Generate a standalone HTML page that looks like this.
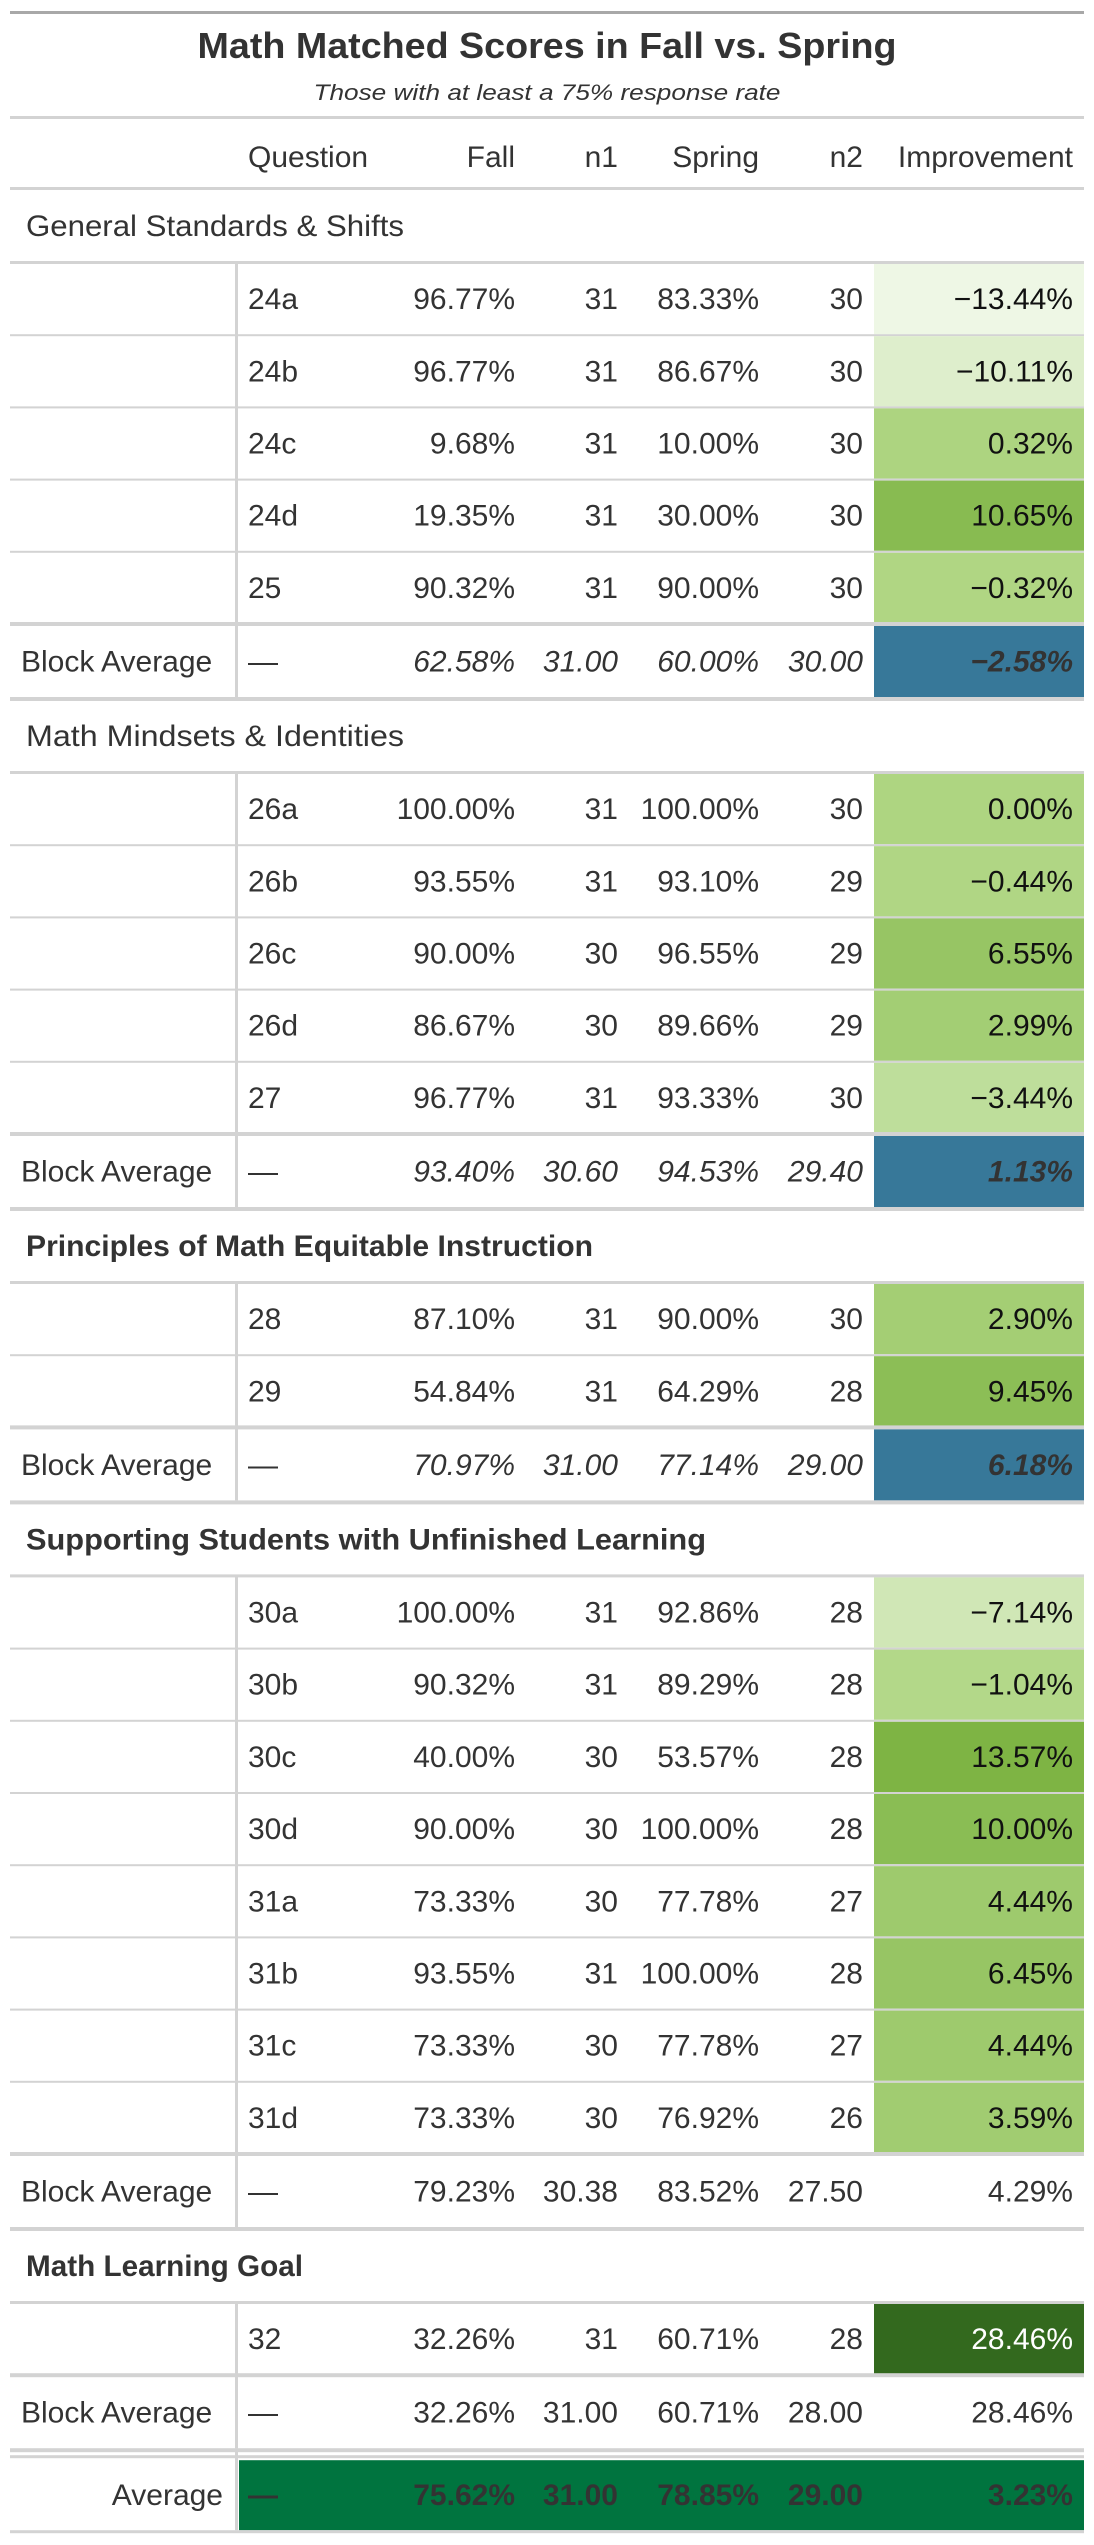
<!DOCTYPE html>
<html><head><meta charset="utf-8">
<style>
html,body{margin:0;padding:0;background:#fff;}
svg{display:block;font-family:"Liberation Sans",sans-serif;}
</style></head>
<body>
<svg id="tbl" width="1094" height="2545" viewBox="0 0 1094 2545" xmlns="http://www.w3.org/2000/svg">
<rect x="10" y="11" width="1074" height="3" fill="#a8a8a8"/>
<text x="547" y="58" text-anchor="middle" font-size="36" font-weight="bold" fill="#333" textLength="699" lengthAdjust="spacingAndGlyphs">Math Matched Scores in Fall vs. Spring</text>
<text x="547" y="100" text-anchor="middle" font-size="22" font-style="italic" fill="#333" textLength="467" lengthAdjust="spacingAndGlyphs">Those with at least a 75% response rate</text>
<rect x="10" y="116" width="1074" height="3" fill="#d3d3d3"/>
<g font-size="30" fill="#333">
<text x="248" y="167">Question</text>
<text x="515" y="167" text-anchor="end">Fall</text>
<text x="618" y="167" text-anchor="end">n1</text>
<text x="759" y="167" text-anchor="end">Spring</text>
<text x="863" y="167" text-anchor="end">n2</text>
<text x="1073" y="167" text-anchor="end">Improvement</text>
</g>
<rect x="10" y="187" width="1074" height="3" fill="#d3d3d3"/>
<g id="body"></g>
</svg>
<script>
const groupNames = ["General Standards & Shifts","Math Mindsets & Identities","Principles of Math Equitable Instruction","Supporting Students with Unfinished Learning","Math Learning Goal"];
const groupBold = [false,false,true,true,true];
const groupLabelWidths = [378,378,567,680,277];
const questions = [["24a","24b","24c","24d","25"],["26a","26b","26c","26d","27"],["28","29"],["30a","30b","30c","30d","31a","31b","31c","31d"],["32"]];
const fall = [[96.77,96.77,9.68,19.35,90.32],[100,93.55,90,86.67,96.77],[87.10,54.84],[100,90.32,40,90,73.33,93.55,73.33,73.33],[32.26]];
const n1 = [[31,31,31,31,31],[31,31,30,30,31],[31,31],[31,31,30,30,30,31,30,30],[31]];
const spring = [[83.33,86.67,10,30,90],[100,93.10,96.55,89.66,93.33],[90,64.29],[92.86,89.29,53.57,100,77.78,100,77.78,76.92],[60.71]];
const n2 = [[30,30,30,30,30],[30,29,29,29,30],[30,28],[28,28,28,28,27,28,27,26],[28]];
const improvement = [[-13.44,-10.11,0.32,10.65,-0.32],[0,-0.44,6.55,2.99,-3.44],[2.90,9.45],[-7.14,-1.04,13.57,10,4.44,6.45,4.44,3.59],[28.46]];
const blockFall = [62.58,93.40,70.97,79.23,32.26];
const blockN1 = [31.00,30.60,31.00,30.38,31.00];
const blockSpring = [60.00,94.53,77.14,83.52,60.71];
const blockN2 = [30.00,29.40,29.00,27.50,28.00];
const blockImp = [-2.58,1.13,6.18,4.29,28.46];
const blockHighlighted = [true,true,true,false,false];
const overall = [75.62,31.00,78.85,29.00,3.23];

const NS="http://www.w3.org/2000/svg";
const body=document.getElementById('body');
function el(tag,attrs,parent){const e=document.createElementNS(NS,tag);for(const k in attrs)e.setAttribute(k,attrs[k]);(parent||body).appendChild(e);return e;}
function txt(s,x,y,anchor,extra,parent){const t=el('text',Object.assign({x:x,y:y,'text-anchor':anchor,'font-size':30,fill:'#333'},extra||{}),parent);t.textContent=s;return t;}
function pct(v){return (v<0?'\u2212':'')+Math.abs(v).toFixed(2)+'%';}
function hex(c){return '#'+c.map(v=>Math.round(v).toString(16).padStart(2,'0')).join('');}
const stops=[[-14,[241,248,233]],[0,[174,213,129]],[14,[124,179,66]],[28.5,[51,105,30]]];
function colorFor(v){
  if(v<=stops[0][0])return hex(stops[0][1]);
  for(let i=1;i<stops.length;i++){if(v<=stops[i][0]){const a=stops[i-1],b=stops[i];const t=(v-a[0])/(b[0]-a[0]);return hex(a[1].map((c,j)=>c+(b[1][j]-c)*t));}}
  return hex(stops[stops.length-1][1]);
}
const X={q:248,fall:515,n1:618,spring:759,n2:863,imp:1073,impL:874,right:1084,left:10,div:235};
const ROW=72.2, BA=75, LBL=74;
let y=263;
for(let g=0;g<groupNames.length;g++){
  if(g>0){
    const lab=txt(groupNames[g],26,y+LBL/2+10,'start',{'font-weight':groupBold[g]?'bold':'normal',textLength:groupLabelWidths[g],lengthAdjust:'spacingAndGlyphs'});
    
    
    y+=LBL;
  } else {
    const lab=txt(groupNames[g],26,226+10,'start',{textLength:groupLabelWidths[g],lengthAdjust:'spacingAndGlyphs'});
    
    
  }
  const ln=el('rect',{x:X.left,y:y-2,width:1074,height:3,fill:'#d3d3d3'});
  
  
  const top=y;
  for(let i=0;i<questions[g].length;i++){
    const row=el('g',{});
    
    
    const v=improvement[g][i];
    const cell=el('rect',{x:X.impL,y:y+1,width:X.right-X.impL,height:ROW-2,fill:colorFor(v)},row);
    
    
    const cy=y+ROW/2+10;
    txt(questions[g][i],X.q,cy,'start',{},row);
    txt(pct(fall[g][i]),X.fall,cy,'end',{},row);
    txt(String(n1[g][i]),X.n1,cy,'end',{},row);
    txt(pct(spring[g][i]),X.spring,cy,'end',{},row);
    txt(String(n2[g][i]),X.n2,cy,'end',{},row);
    txt(pct(v),X.imp,cy,'end',{fill:v>20?'#fff':'#111'},row);
    y+=ROW;
    const rl=el('rect',{x:X.left,y:y-1,width:1074,height:2,fill:'#d3d3d3'},row);
    
    
  }
  // block average
  const ba=el('g',{});
  
  
  el('rect',{x:X.left,y:y-2,width:1074,height:4,fill:'#d3d3d3'},ba);
  const hl=blockHighlighted[g];
  if(hl){el('rect',{x:X.impL,y:y+2,width:X.right-X.impL,height:BA-4,fill:'#377899'},ba);}
  const cy=y+BA/2+10;
  const it=hl?{'font-style':'italic'}:{};
  txt('Block Average',21,cy,'start',{},ba);
  txt('\u2014',X.q,cy,'start',{},ba);
  txt(pct(blockFall[g]),X.fall,cy,'end',it,ba);
  txt(blockN1[g].toFixed(2),X.n1,cy,'end',it,ba);
  txt(pct(blockSpring[g]),X.spring,cy,'end',it,ba);
  txt(blockN2[g].toFixed(2),X.n2,cy,'end',it,ba);
  txt(pct(blockImp[g]),X.imp,cy,'end',hl?{'font-style':'italic','font-weight':'bold'}:{},ba);
  y+=BA;
  el('rect',{x:X.left,y:y-2,width:1074,height:4,fill:'#d3d3d3'},ba);
  const dv=el('rect',{x:X.div,y:top,width:3,height:y-top-2,fill:'#d3d3d3'});
  
  
}
// overall average
const av=el('g',{});


el('rect',{x:X.left,y:y+5,width:1074,height:3,fill:'#d3d3d3'},av);
el('rect',{x:X.div,y:y-2,width:3,height:82,fill:'#d3d3d3'},av);
el('rect',{x:X.div+4,y:y+10,width:X.right-X.div-4,height:70,fill:'#00743f'},av);
const acy=y+10+35+10;
txt('Average',223,acy,'end',{},av);
txt('\u2014',X.q,acy,'start',{'font-weight':'bold'},av);
txt(pct(overall[0]),X.fall,acy,'end',{'font-weight':'bold'},av);
txt(overall[1].toFixed(2),X.n1,acy,'end',{'font-weight':'bold'},av);
txt(pct(overall[2]),X.spring,acy,'end',{'font-weight':'bold'},av);
txt(overall[3].toFixed(2),X.n2,acy,'end',{'font-weight':'bold'},av);
txt(pct(overall[4]),X.imp,acy,'end',{'font-weight':'bold'},av);
el('rect',{x:X.left,y:y+80,width:1074,height:3,fill:'#d3d3d3'},av);
</script>
</body></html>
